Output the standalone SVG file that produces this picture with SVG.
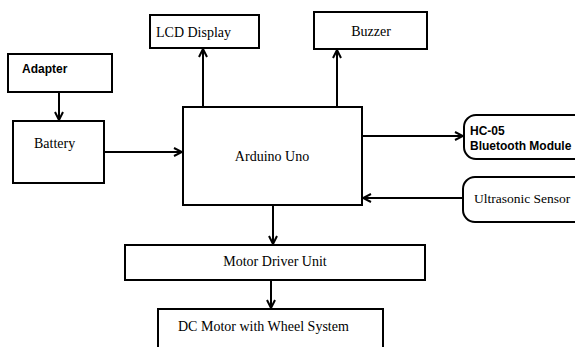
<svg xmlns="http://www.w3.org/2000/svg" width="575" height="347" viewBox="0 0 575 347">
<defs>
<style>
.box{fill:#fff;stroke:#000;stroke-width:2}
.serif{font-family:"Liberation Serif",serif;font-size:14px;fill:#000}
.sans{font-family:"Liberation Sans",Arial,sans-serif;font-size:12px;font-weight:bold;fill:#000}
.con{fill:none;stroke:#000;stroke-width:2}
</style>
<marker id="arr" viewBox="0 0 10 10" refX="9" refY="5" markerWidth="10" markerHeight="10" markerUnits="userSpaceOnUse" orient="auto">
<path d="M1,1 L9,5 L1,9" fill="none" stroke="#000" stroke-width="2"/>
</marker>
</defs>
<rect width="575" height="347" fill="#fff"/>
<g id="connectors">
<line class="con" x1="59" y1="92" x2="59" y2="120" marker-end="url(#arr)"/>
<line class="con" x1="104" y1="152" x2="182" y2="152" marker-end="url(#arr)"/>
<line class="con" x1="203" y1="107" x2="203" y2="49" marker-end="url(#arr)"/>
<line class="con" x1="337" y1="107" x2="337" y2="50" marker-end="url(#arr)"/>
<line class="con" x1="362" y1="136" x2="463" y2="136" marker-end="url(#arr)"/>
<line class="con" x1="463" y1="198" x2="363" y2="198" marker-end="url(#arr)"/>
<line class="con" x1="273" y1="205" x2="273" y2="244" marker-end="url(#arr)"/>
<line class="con" x1="271" y1="280" x2="271" y2="308" marker-end="url(#arr)"/>
</g>
<g id="adapter"><rect class="box" x="8" y="54" width="104" height="38"/><text class="sans" x="22" y="73">Adapter</text></g>
<g id="battery"><rect class="box" x="13" y="121" width="91" height="62"/><text class="serif" x="34" y="148">Battery</text></g>
<g id="lcd"><rect class="box" x="150" y="15" width="109" height="33"/><text class="serif" x="156" y="37">LCD Display</text></g>
<g id="buzzer"><rect class="box" x="314" y="12" width="113" height="37"/><text class="serif" x="371" y="36" text-anchor="middle">Buzzer</text></g>
<g id="arduino"><rect class="box" x="183" y="107" width="179" height="98"/><text class="serif" x="272" y="161" text-anchor="middle">Arduino Uno</text></g>
<g id="hc05"><rect class="box" x="464" y="115" width="130" height="44" rx="12"/><text class="sans" x="470" y="135">HC-05</text><text class="sans" x="470" y="150">Bluetooth Module</text></g>
<g id="ultrasonic"><rect class="box" x="463" y="177" width="130" height="45" rx="12"/><text class="serif" x="474" y="203" style="font-size:13.5px">Ultrasonic Sensor</text></g>
<g id="motordriver"><rect class="box" x="125" y="245" width="300" height="35"/><text class="serif" x="275" y="266" text-anchor="middle">Motor Driver Unit</text></g>
<g id="dcmotor"><rect class="box" x="158" y="309" width="225" height="50"/><text class="serif" x="178" y="331">DC Motor with Wheel System</text></g>
</svg>
